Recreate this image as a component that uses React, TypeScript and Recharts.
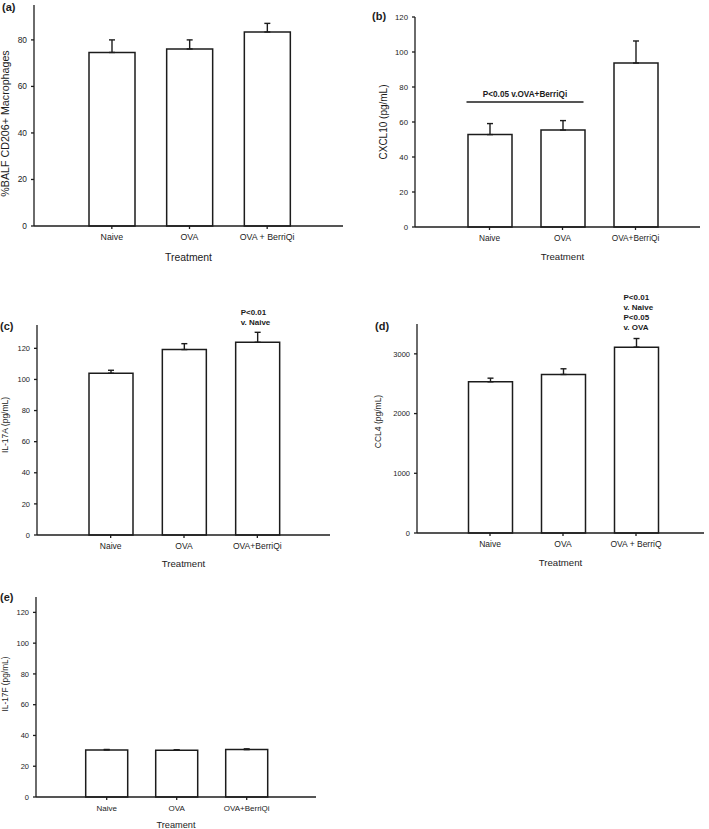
import React from "react";
import { BarChart, Bar, XAxis, YAxis, ErrorBar, ReferenceLine, LabelList } from "recharts";

const FONT = "'Liberation Sans', Arial, Helvetica, sans-serif";
const INK = "#1c1c1c";

// (a) %BALF CD206+ macrophages
const groupsA = ["Naive", "OVA", "OVA + BerriQi"];
const meanA = [74.6, 76.1, 83.4];
const semA = [5.4, 3.9, 3.7];
const ticksA = [0, 20, 40, 60, 80];

// (b) CXCL10
const groupsB = ["Naive", "OVA", "OVA+BerriQi"];
const meanB = [52.8, 55.4, 93.7];
const semB = [6.3, 5.4, 12.6];
const ticksB = [0, 20, 40, 60, 80, 100, 120];
const bracketB = 71.4;
const noteB = "P<0.05 v.OVA+BerriQi";

// (c) IL-17A
const groupsC = ["Naive", "OVA", "OVA+BerriQi"];
const meanC = [104, 119.2, 123.9];
const semC = [1.9, 3.8, 6.4];
const ticksC = [0, 20, 40, 60, 80, 100, 120];
const noteC = ["P<0.01", "v. Naive"];

// (d) CCL4
const groupsD = ["Naive", "OVA", "OVA + BerriQ"];
const meanD = [2532, 2655, 3112];
const semD = [61, 95, 145];
const ticksD = [0, 1000, 2000, 3000];
const noteD = ["P<0.01", "v. Naive", "P<0.05", "v. OVA"];

// (e) IL-17F
const groupsE = ["Naive", "OVA", "OVA+BerriQi"];
const meanE = [30.6, 30.4, 30.8];
const semE = [0.3, 0.3, 0.5];
const ticksE = [0, 20, 40, 60, 80, 100, 120];

const toRows = (groups: string[], mean: number[], sem: number[]) =>
  groups.map((g, i) => ({ group: g, mean: mean[i], sem: sem[i] }));

// stacked bold note drawn above the last bar
const stackedNote = (lines: string[], dx: number, lastDy: number) => (p: any) => {
  if (p.index !== 2) return null;
  const x = p.x + dx;
  const y0 = p.y + lastDy - (lines.length - 1) * 10;
  return (
    <text x={x} y={y0} fontSize={8} fontWeight="bold" fontFamily={FONT} fill={INK}>
      {lines.map((l, i) => (
        <tspan key={i} x={x} dy={i === 0 ? 0 : 10}>
          {l}
        </tspan>
      ))}
    </text>
  );
};

function Panel(props: any) {
  const {
    left, top, width, height, margin, yWidth, xHeight, rows, ticks, domain,
    padL, padR, barSize, yLabel, yLabelSize, yLabelOffset, yLabelDy,
    xLabel, xLabelSize, xLabelOffset, xLabelDx, tickFont, yTickFont, children, note,
  } = props;
  return (
    <div style={{ position: "absolute", left, top }}>
      <BarChart width={width} height={height} data={rows} margin={margin}>
        <XAxis
          dataKey="group"
          height={xHeight}
          padding={{ left: padL, right: padR }}
          tickSize={3}
          tickMargin={5}
          stroke={INK}
          strokeWidth={1.3}
          tick={{ fontSize: tickFont, fill: INK, fontFamily: FONT }}
          interval={0}
          label={{
            value: xLabel,
            position: "insideTop",
            offset: xLabelOffset,
            dx: xLabelDx || 0,
            style: { fontSize: xLabelSize, fill: INK, fontFamily: FONT },
          }}
        />
        <YAxis
          width={yWidth}
          domain={domain}
          ticks={ticks}
          tickSize={3}
          tickMargin={4}
          stroke={INK}
          strokeWidth={1.3}
          tick={{ fontSize: yTickFont, fill: INK, fontFamily: FONT }}
          label={{
            value: yLabel,
            angle: -90,
            position: "insideLeft",
            offset: yLabelOffset,
            dy: yLabelDy || 0,
            style: { textAnchor: "middle", fontSize: yLabelSize, fill: INK, fontFamily: FONT },
          }}
        />
        <Bar
          dataKey="mean"
          fill="#ffffff"
          stroke={INK}
          strokeWidth={1.5}
          barSize={barSize}
          isAnimationActive={false}
        >
          <ErrorBar
            dataKey={(d: any) => [0, d.sem]}
            direction="y"
            width={3}
            stroke={INK}
            strokeWidth={1.4}
            isAnimationActive={false}
          />
          {note ? <LabelList dataKey="mean" content={note} /> : null}
        </Bar>
        {children}
      </BarChart>
    </div>
  );
}

const letterStyle = (left: number, top: number): React.CSSProperties => ({
  position: "absolute",
  left,
  top,
  fontFamily: FONT,
  fontWeight: "bold",
  fontSize: 11,
  lineHeight: "12px",
  color: INK,
});

export default function App() {
  return (
    <div
      style={{
        position: "absolute",
        left: 0,
        top: 0,
        width: 709,
        height: 829,
        background: "#ffffff",
        overflow: "hidden",
      }}
    >
      <Panel
        left={0} top={0} width={355} height={270}
        margin={{ top: 5, right: 12, bottom: 4, left: 0 }}
        yWidth={34} xHeight={40}
        rows={toRows(groupsA, meanA, semA)} ticks={ticksA} domain={[0, 95]}
        padL={39} padR={37} barSize={46}
        yLabel="%BALF CD206+ Macrophages" yLabelSize={10.7} yLabelOffset={5} yLabelDy={8}
        xLabel="Treatment" xLabelSize={10.4} xLabelOffset={28}
        tickFont={8.8} yTickFont={8.4}
      />
      <Panel
        left={354} top={0} width={355} height={270}
        margin={{ top: 17, right: 9, bottom: 3, left: 0 }}
        yWidth={61} xHeight={40}
        rows={toRows(groupsB, meanB, semB)} ticks={ticksB} domain={[0, 120]}
        padL={38} padR={28} barSize={44}
        yLabel="CXCL10 (pg/mL)" yLabelSize={10} yLabelOffset={29} yLabelDy={0}
        xLabel="Treatment" xLabelSize={9.6} xLabelOffset={26.5} xLabelDx={5}
        tickFont={8.3} yTickFont={7.8}
      >
        <ReferenceLine
          segment={[{ x: "Naive", y: bracketB }, { x: "OVA", y: bracketB }]}
          shape={(p: any) => (
            <g>
              <line x1={p.x1 - 23} x2={p.x2 + 21} y1={p.y1} y2={p.y2} stroke={INK} strokeWidth={1.5} />
              <text
                x={(p.x1 + p.x2) / 2 - 1}
                y={p.y1 - 5}
                textAnchor="middle"
                fontSize={8.2}
                fontWeight="bold"
                fontFamily={FONT}
                fill={INK}
              >
                {noteB}
              </text>
            </g>
          )}
        />
      </Panel>
      <Panel
        left={0} top={290} width={355} height={290}
        margin={{ top: 35, right: 25, bottom: 5, left: 0 }}
        yWidth={37} xHeight={40}
        rows={toRows(groupsC, meanC, semC)} ticks={ticksC} domain={[0, 135]}
        padL={37} padR={36} barSize={44}
        yLabel="IL-17A (pg/mL)" yLabelSize={8.5} yLabelOffset={5} yLabelDy={-5}
        xLabel="Treatment" xLabelSize={9.6} xLabelOffset={25.5}
        tickFont={8.5} yTickFont={7.5}
        note={stackedNote(noteC, 5, -17)}
      />
      <Panel
        left={354} top={290} width={355} height={283}
        margin={{ top: 34, right: 5, bottom: 0, left: 0 }}
        yWidth={63} xHeight={40}
        rows={toRows(groupsD, meanD, semD)} ticks={ticksD} domain={[0, 3500]}
        padL={36.5} padR={31.5} barSize={44}
        yLabel="CCL4 (pg/mL)" yLabelSize={8.5} yLabelOffset={24} yLabelDy={-7}
        xLabel="Treatment" xLabelSize={9.6} xLabelOffset={26.5}
        tickFont={8.5} yTickFont={7.5}
        note={stackedNote(noteD, 9, -17)}
      />
      <Panel
        left={0} top={580} width={355} height={249}
        margin={{ top: 17, right: 39, bottom: 0, left: 0 }}
        yWidth={36} xHeight={32}
        rows={toRows(groupsE, meanE, semE)} ticks={ticksE} domain={[0, 130]}
        padL={35.7} padR={34.3} barSize={42}
        yLabel="IL-17F (pg/mL)" yLabelSize={8.3} yLabelOffset={5} yLabelDy={-13}
        xLabel="Treament" xLabelSize={9.2} xLabelOffset={24.5}
        tickFont={8} yTickFont={7.5}
      />
      <div style={letterStyle(2, 1)}>(a)</div>
      <div style={letterStyle(372, 10)}>(b)</div>
      <div style={letterStyle(0, 320)}>(c)</div>
      <div style={letterStyle(375, 320)}>(d)</div>
      <div style={letterStyle(0, 591)}>(e)</div>
    </div>
  );
}
